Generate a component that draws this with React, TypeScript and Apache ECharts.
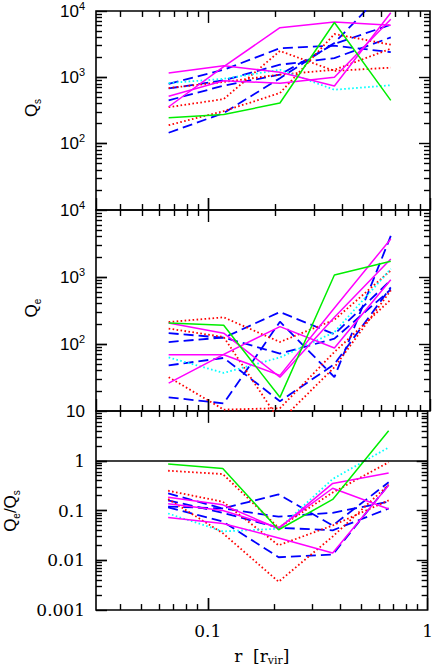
import React, { useEffect, useRef } from 'react';
import * as echarts from 'echarts';

// radial bins r [r_vir]
const R = [0.066, 0.117, 0.21, 0.37, 0.665];

// Panel 1: Q_s
const qsMagenta = [
  [1160, 1500, 1190, 740, 9400],
  [520, 890, 815, 1000, 7500],
  [360, 1450, 5600, 6800, 6100],
];
const qsBlue = [
  [800, 1300, 2750, 3000, 2400],
  [680, 900, 1550, 1950, 4000],
  [450, 750, 1100, 3200, 6200],
  [146, 290, 970, 3300, 25000],
];
const qsRed = [
  [690, 850, 1100, 1300, 2700],
  [355, 470, 2500, 1250, 1400],
  [190, 310, 580, 4500, 3100],
];
const qsCyan = [820, 950, 1300, 650, 760];
const qsGreen = [245, 275, 410, 6700, 450];

// Panel 2: Q_e
const qeMagenta = [
  [205, 145, 32, 250, 1860],
  [69, 69, 34, 345, 3700],
  [26, 70, 182, 87, 910],
];
const qeBlue = [
  [145, 124, 300, 140, 900],
  [107, 125, 72, 120, 650],
  [48, 62, 14, 50, 700],
  [16, 13, 215, 32, 4100],
];
const qeRed = [
  [213, 250, 107, 230, 1250],
  [170, 127, 7, 45, 630],
  [32, 10.5, 11, 76, 460],
];
const qeCyan = [63, 37, 63, 150, 1320];
const qeGreen = [205, 190, 16, 1070, 1720];

// Panel 3: Q_e / Q_s
const rtMagenta = [
  [0.185, 0.13, 0.043, 0.35, 0.57],
  [0.137, 0.1, 0.045, 0.28, 0.107],
  [0.072, 0.055, 0.028, 0.014, 0.32],
];
const rtBlue = [
  [0.22, 0.11, 0.21, 0.05, 0.37],
  [0.12, 0.11, 0.075, 0.09, 0.15],
  [0.115, 0.06, 0.0115, 0.013, 0.33],
  [0.16, 0.09, 0.045, 0.04, 0.11],
];
const rtRed = [
  [0.63, 0.54, 0.045, 0.23, 0.93],
  [0.25, 0.15, 0.02, 0.05, 0.16],
  [0.17, 0.035, 0.0037, 0.03, 0.33],
];
const rtCyan = [0.087, 0.038, 0.043, 0.43, 1.85];
const rtGreen = [0.86, 0.7, 0.041, 0.167, 4.0];

const X_MIN = 0.031;
const X_MAX = 1;
const Y_RANGES: [number, number][] = [
  [10, 10000],
  [10, 10000],
  [0.001, 10],
];

// tick values
const X_MAJOR = [0.1];
const X_MINOR = [0.04, 0.05, 0.06, 0.07, 0.08, 0.09, 0.2, 0.3, 0.4, 0.5, 0.6, 0.7, 0.8, 0.9];

const MAGENTA = '#ff00ff';
const BLUE = '#0000ff';
const RED = '#ff0000';
const CYAN = '#00ffff';
const GREEN = '#00ee00';

const SANS = '"Liberation Sans", Arial, sans-serif';
const SERIF = '"DejaVu Serif", serif';

const GRIDS = [
  { left: 96, top: 10, width: 334, height: 200 },
  { left: 96, top: 210, width: 334, height: 201 },
  { left: 96, top: 411, width: 334, height: 201 },
];

function yTickValues(g: number) {
  const [yMin, yMax] = Y_RANGES[g];
  const out: { v: number; major: boolean }[] = [];
  const e0 = Math.floor(Math.log10(yMin));
  const e1 = Math.ceil(Math.log10(yMax));
  for (let e = e0; e <= e1; e++) {
    for (let k = 1; k <= 9; k++) {
      const v = Number((k * Math.pow(10, e)).toPrecision(3));
      if (v <= yMin * 1.0001 || v >= yMax * 0.9999) continue;
      out.push({ v, major: k === 1 });
    }
  }
  return out;
}

// tick segments in data coordinates (tick length converted into a log factor)
function tickSegments(g: number) {
  const gr = GRIDS[g];
  const [yMin, yMax] = Y_RANGES[g];
  const decX = Math.log10(X_MAX) - Math.log10(X_MIN);
  const decY = Math.log10(yMax) - Math.log10(yMin);
  const fy = (px: number) => Math.pow(10, (px / gr.height) * decY);
  const fx = (px: number) => Math.pow(10, (px / gr.width) * decX);
  const segs: any[] = [];
  const seg = (a: number[], b: number[]) => segs.push([{ coord: a }, { coord: b }]);
  [...X_MAJOR.map((v) => ({ v, major: true })), ...X_MINOR.map((v) => ({ v, major: false }))].forEach((t) => {
    const f = fy(t.major ? 12 : 6);
    seg([t.v, yMin], [t.v, yMin * f]);
    seg([t.v, yMax], [t.v, yMax / f]);
  });
  yTickValues(g).forEach((t) => {
    const f = fx(t.major ? 11 : 6);
    seg([X_MIN, t.v], [X_MIN * f, t.v]);
    seg([X_MAX, t.v], [X_MAX / f, t.v]);
  });
  return segs;
}

function mk(vals: number[], g: number, color: string, kind: 'solid' | 'dash' | 'dot', extra: any = {}) {
  const type = kind === 'solid' ? 'solid' : kind === 'dash' ? [10, 5] : [1.6, 2.4];
  return {
    type: 'line',
    xAxisIndex: g,
    yAxisIndex: g,
    data: R.map((x, i) => [x, vals[i]]),
    showSymbol: false,
    symbol: 'none',
    silent: true,
    lineStyle: { color, width: kind === 'solid' ? 1.5 : 1.8, type, cap: 'butt' },
    ...extra,
  };
}

function panelSeries(g: number, mag: number[][], blue: number[][], red: number[][], cyan: number[], green: number[], withUnity: boolean) {
  const out: any[] = [];
  blue.forEach((v) => out.push(mk(v, g, BLUE, 'dash')));
  red.forEach((v) => out.push(mk(v, g, RED, 'dot')));
  out.push(mk(cyan, g, CYAN, 'dot'));
  mag.forEach((v) => out.push(mk(v, g, MAGENTA, 'solid')));
  const tickData: any[] = tickSegments(g);
  if (withUnity) tickData.push({ yAxis: 1, lineStyle: { width: 1.5 } });
  out.push(
    mk(green, g, GREEN, 'solid', {
      markLine: {
        silent: true,
        animation: false,
        symbol: ['none', 'none'],
        label: { show: false },
        lineStyle: { color: '#000', type: 'solid', width: 1.4 },
        data: tickData,
      },
    })
  );
  return out;
}

const powLabel = (v: number) => {
  const n = Math.round(Math.log10(v));
  if (n === 1) return '{a|10}';
  return '{a|10}{s|' + n + '}';
};
const decLabel = (v: number) => {
  const n = Math.round(Math.log10(v));
  return String(Number(Math.pow(10, n).toPrecision(1)));
};

const powRich = {
  a: { fontFamily: SANS, fontSize: 17, color: '#000', lineHeight: 22 },
  s: { fontFamily: SANS, fontSize: 11, color: '#000', verticalAlign: 'top', lineHeight: 12 },
};

const qRich = {
  q: { fontFamily: SANS, fontSize: 17, fill: '#000', lineHeight: 22 },
  s: { fontFamily: SANS, fontSize: 10, fill: '#000', verticalAlign: 'bottom', lineHeight: 12 },
  l: { fontFamily: SANS, fontSize: 17, fill: '#000', lineHeight: 22 },
};
const yNames = [
  { x: 31, y: 108, text: '{q|Q}{s|s}' },
  { x: 31, y: 308, text: '{q|Q}{s|e}' },
  { x: 10, y: 511, text: '{q|Q}{s|e}{l|/}{q|Q}{s|s}' },
];

const option: any = {
  animation: false,
  backgroundColor: '#fff',
  grid: GRIDS.map((g) => ({ ...g, show: true, borderColor: '#000', borderWidth: 1.6, backgroundColor: 'transparent' })),
  xAxis: [0, 1, 2].map((g) => ({
    type: 'log',
    logBase: 10,
    gridIndex: g,
    min: X_MIN,
    max: X_MAX,
    axisLine: { show: false },
    axisTick: { show: true, inside: true, length: 12, lineStyle: { color: '#000', width: 1.4 } },
    splitLine: { show: false },
    axisLabel: {
      show: g === 2,
      margin: 12,
      fontFamily: SERIF,
      fontSize: 17,
      color: '#000',
      showMinLabel: false,
      formatter: (v: number) => {
        const l = Math.log10(v);
        if (Math.abs(l - Math.round(l)) > 1e-6) return '';
        return decLabel(v);
      },
    },
    name: g === 2 ? '{a|r  [r}{b|vir}{a|]}' : '',
    nameLocation: 'middle',
    nameGap: 36,
    nameTextStyle: {
      rich: {
        a: { fontFamily: SERIF, fontSize: 17, color: '#000', lineHeight: 20 },
        b: { fontFamily: SERIF, fontSize: 11, color: '#000', verticalAlign: 'bottom', lineHeight: 12 },
      },
    },
  })),
  yAxis: [0, 1, 2].map((g) => ({
    type: 'log',
    logBase: 10,
    gridIndex: g,
    min: Y_RANGES[g][0],
    max: Y_RANGES[g][1],
    axisLine: { show: false },
    axisTick: { show: true, inside: true, length: 11, lineStyle: { color: '#000', width: 1.4 } },
    splitLine: { show: false },
    axisLabel: {
      margin: 11,
      showMinLabel: g !== 0,
      showMaxLabel: g !== 2,
      formatter: g === 2 ? (v: number) => decLabel(v) : powLabel,
      fontFamily: g === 2 ? SERIF : SANS,
      fontSize: 17,
      color: '#000',
      rich: g === 2 ? undefined : powRich,
    },
  })),
  graphic: {
    elements: yNames.map((n) => ({
      type: 'text',
      x: n.x,
      y: n.y,
      rotation: Math.PI / 2,
      silent: true,
      style: { text: n.text, rich: qRich, align: 'center', verticalAlign: 'middle', fill: '#000' },
    })),
  },
  series: [
    ...panelSeries(0, qsMagenta, qsBlue, qsRed, qsCyan, qsGreen, false),
    ...panelSeries(1, qeMagenta, qeBlue, qeRed, qeCyan, qeGreen, false),
    ...panelSeries(2, rtMagenta, rtBlue, rtRed, rtCyan, rtGreen, true),
  ],
};

const App = () => {
  const ref = useRef<HTMLDivElement>(null);
  useEffect(() => {
    const chart = echarts.init(ref.current!, undefined, { renderer: 'svg' });
    chart.setOption(option);
    return () => chart.dispose();
  }, []);
  return <div ref={ref} style={{ position: 'absolute', left: 0, top: 0, width: 436, height: 667 }} />;
};

export default App;
